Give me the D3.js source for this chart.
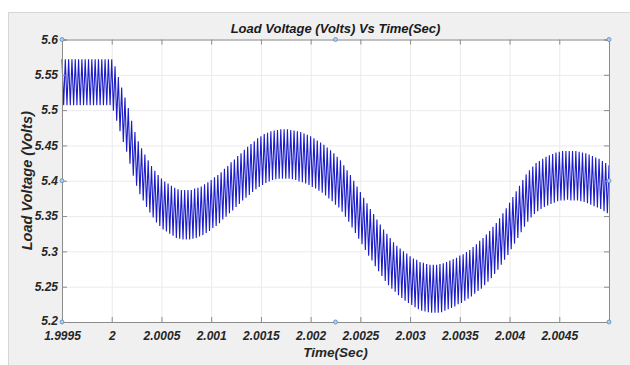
<!DOCTYPE html>
<html>
<head>
<meta charset="utf-8">
<script src="https://cdn.jsdelivr.net/npm/d3@7/dist/d3.min.js"></script>
<style>
  html, body { margin: 0; padding: 0; background: #ffffff; }
  svg { display: block; }
  text { font-family: "Liberation Sans", Arial, sans-serif; font-weight: bold; font-style: italic; }
</style>
</head>
<body>
<svg id="chart" width="630" height="365"></svg>
<script>
// Load voltage ripple: one peak and one trough per switching cycle (30 kHz)
const timeStart = 1.9995;          // s, first sample
const cyclePeriod = 1 / 30000;     // s, ripple period

const ripplePeaks = [
  5.572,5.572,5.572,5.572,5.572,5.572,5.572,5.572,5.572,5.572,5.572,5.572,5.572,5.572,5.572,5.572,
  5.562,5.547,5.532,5.518,5.503,5.485,5.469,5.456,5.446,5.437,
  5.429,5.421,5.414,5.408,5.403,5.399,5.396,5.393,5.390,5.388,
  5.387,5.387,5.387,5.387,5.389,5.390,5.392,5.395,5.398,5.401,
  5.405,5.408,5.412,5.417,5.421,5.426,5.430,5.435,5.439,5.444,
  5.448,5.452,5.456,5.460,5.463,5.466,5.468,5.470,5.471,5.472,
  5.473,5.473,5.473,5.472,5.471,5.470,5.469,5.467,5.465,5.463,
  5.460,5.457,5.454,5.451,5.447,5.443,5.439,5.434,5.429,5.422,
  5.415,5.408,5.400,5.392,5.384,5.376,5.368,5.360,5.353,5.345,
  5.338,5.331,5.325,5.319,5.313,5.308,5.304,5.300,5.297,5.293,
  5.290,5.288,5.285,5.284,5.282,5.281,5.281,5.281,5.282,5.283,
  5.285,5.287,5.289,5.291,5.294,5.296,5.299,5.302,5.306,5.310,
  5.315,5.319,5.324,5.329,5.335,5.340,5.347,5.354,5.361,5.369,
  5.377,5.385,5.393,5.401,5.409,5.415,5.420,5.425,5.428,5.431,
  5.434,5.436,5.438,5.440,5.441,5.442,5.442,5.442,5.442,5.442,
  5.441,5.440,5.439,5.437,5.435,5.433,5.431,5.428,5.425,5.422
];

const rippleTroughs = [
  5.507,5.507,5.507,5.507,5.507,5.507,5.507,5.507,5.507,5.507,5.507,5.507,5.507,5.507,5.507,
  5.499,5.485,5.470,5.455,5.441,5.424,5.407,5.393,5.381,5.372,
  5.363,5.355,5.348,5.341,5.336,5.331,5.328,5.325,5.322,5.319,
  5.318,5.317,5.317,5.317,5.318,5.319,5.321,5.323,5.326,5.329,
  5.333,5.336,5.340,5.345,5.349,5.354,5.358,5.363,5.367,5.372,
  5.376,5.380,5.384,5.388,5.391,5.394,5.397,5.399,5.401,5.402,
  5.403,5.403,5.403,5.403,5.402,5.401,5.399,5.398,5.396,5.394,
  5.391,5.389,5.386,5.383,5.379,5.375,5.371,5.366,5.362,5.356,
  5.349,5.342,5.334,5.326,5.318,5.310,5.302,5.294,5.287,5.279,
  5.272,5.265,5.258,5.252,5.247,5.243,5.238,5.234,5.230,5.227,
  5.224,5.221,5.218,5.216,5.215,5.214,5.213,5.213,5.213,5.214,
  5.216,5.218,5.220,5.222,5.225,5.227,5.230,5.233,5.236,5.240,
  5.244,5.247,5.252,5.257,5.262,5.268,5.274,5.281,5.288,5.295,
  5.303,5.311,5.319,5.327,5.335,5.342,5.348,5.353,5.357,5.360,
  5.363,5.365,5.367,5.369,5.371,5.372,5.372,5.373,5.372,5.372,
  5.372,5.371,5.370,5.368,5.366,5.364,5.362,5.360,5.357,5.354
];

const xTicks = [1.9995, 2, 2.0005, 2.001, 2.0015, 2.002, 2.0025, 2.003, 2.0035, 2.004, 2.0045];
const xTickLabels = ["1.9995", "2", "2.0005", "2.001", "2.0015", "2.002", "2.0025", "2.003", "2.0035", "2.004", "2.0045"];
const yTicks = [5.2, 5.25, 5.3, 5.35, 5.4, 5.45, 5.5, 5.55, 5.6];
const yTickLabels = ["5.2", "5.25", "5.3", "5.35", "5.4", "5.45", "5.5", "5.55", "5.6"];
const xDomain = [1.9995, 2.005];
const yDomain = [5.2, 5.6];

const titleText = "Load Voltage (Volts) Vs Time(Sec)";
const xLabelText = "Time(Sec)";
const yLabelText = "Load Voltage (Volts)";

// Build the zig-zag trace
const trace = [];
ripplePeaks.forEach((v, k) => {
  trace.push([timeStart + k * cyclePeriod, v]);
  if (k < rippleTroughs.length) trace.push([timeStart + (k + 0.5) * cyclePeriod, rippleTroughs[k]]);
});

const svg = d3.select("#chart");
const W = 630, H = 365;
const plot = { left: 62, right: 609, top: 39.5, bottom: 322 };

// Figure background
svg.append("rect").attr("x", 0).attr("y", 0).attr("width", W).attr("height", H).attr("fill", "#ffffff");
svg.append("rect").attr("x", 8.5).attr("y", 12.5).attr("width", W - 8).attr("height", H - 12)
  .attr("fill", "#f0f0f0").attr("stroke", "#d6d6d6");

const x = d3.scaleLinear().domain(xDomain).range([plot.left, plot.right]);
const y = d3.scaleLinear().domain(yDomain).range([plot.bottom, plot.top]);

// Axes background
svg.append("rect").attr("x", plot.left).attr("y", plot.top)
  .attr("width", plot.right - plot.left).attr("height", plot.bottom - plot.top)
  .attr("fill", "#ffffff");

// Grid
const gridColor = "#ebebeb";
svg.append("g").attr("transform", `translate(0,${plot.bottom})`)
  .call(d3.axisBottom(x).tickValues(xTicks).tickSize(-(plot.bottom - plot.top)).tickFormat(""))
  .call(g => g.select(".domain").remove())
  .call(g => g.selectAll("line").attr("stroke", gridColor));
svg.append("g").attr("transform", `translate(${plot.left},0)`)
  .call(d3.axisLeft(y).tickValues(yTicks).tickSize(-(plot.right - plot.left)).tickFormat(""))
  .call(g => g.select(".domain").remove())
  .call(g => g.selectAll("line").attr("stroke", gridColor));

// Waveform
svg.append("path")
  .datum(trace)
  .attr("fill", "none")
  .attr("stroke", "#1c1cc8")
  .attr("stroke-width", 1.1)
  .attr("d", d3.line().x(d => x(d[0])).y(d => y(d[1])));

// Axis box and inward ticks on all four sides
const axisColor = "#8c8c8c";
const labelColor = "#262626";
const tick = 5;
const bottomAxis = svg.append("g").attr("transform", `translate(0,${plot.bottom})`)
  .call(d3.axisBottom(x).tickValues(xTicks).tickSize(-tick).tickPadding(10)
    .tickFormat((d, i) => xTickLabels[i]));
const topAxis = svg.append("g").attr("transform", `translate(0,${plot.top})`)
  .call(d3.axisTop(x).tickValues(xTicks).tickSize(-tick).tickFormat(""));
const leftAxis = svg.append("g").attr("transform", `translate(${plot.left},0)`)
  .call(d3.axisLeft(y).tickValues(yTicks).tickSize(-tick).tickPadding(4)
    .tickFormat((d, i) => yTickLabels[i]));
const rightAxis = svg.append("g").attr("transform", `translate(${plot.right},0)`)
  .call(d3.axisRight(y).tickValues(yTicks).tickSize(-tick).tickFormat(""));

[bottomAxis, topAxis, leftAxis, rightAxis].forEach(g => {
  g.select(".domain").attr("stroke", axisColor).attr("stroke-width", 1);
  g.selectAll(".tick line").attr("stroke", axisColor);
  g.selectAll(".tick text")
    .attr("fill", labelColor)
    .style("font-size", "12px")
    .style("font-family", "'Liberation Sans', Arial, sans-serif")
    .style("font-weight", "bold")
    .style("font-style", "italic");
});
bottomAxis.selectAll(".tick text").attr("dy", "0.68em");
// nudge the lowest y label up a touch so it clears the first x label
leftAxis.selectAll(".tick text").filter(d => d === yDomain[0]).attr("dy", "0.2em");

// Titles
svg.append("text").attr("x", (plot.left + plot.right) / 2).attr("y", 33)
  .attr("text-anchor", "middle").attr("fill", "#1a1a1a").style("font-size", "13px")
  .text(titleText);
svg.append("text").attr("x", (plot.left + plot.right) / 2).attr("y", 357)
  .attr("text-anchor", "middle").attr("fill", labelColor).style("font-size", "13.5px")
  .text(xLabelText);
svg.append("text")
  .attr("transform", `translate(32,${(plot.top + plot.bottom) / 2}) rotate(-90)`)
  .attr("text-anchor", "middle").attr("fill", labelColor).style("font-size", "14.5px")
  .text(yLabelText);

// Selection handles on the axes box
const xm = (plot.left + plot.right) / 2, ym = (plot.top + plot.bottom) / 2;
const handles = [
  [plot.left, plot.top], [xm, plot.top], [plot.right, plot.top],
  [plot.left, ym], [plot.right, ym],
  [plot.left, plot.bottom], [xm, plot.bottom], [plot.right, plot.bottom]
];
svg.append("g").selectAll("circle").data(handles).join("circle")
  .attr("cx", d => d[0]).attr("cy", d => d[1]).attr("r", 2)
  .attr("fill", "#b3cde8").attr("stroke", "#5a8ac0").attr("stroke-width", 0.8);
</script>
</body>
</html>
